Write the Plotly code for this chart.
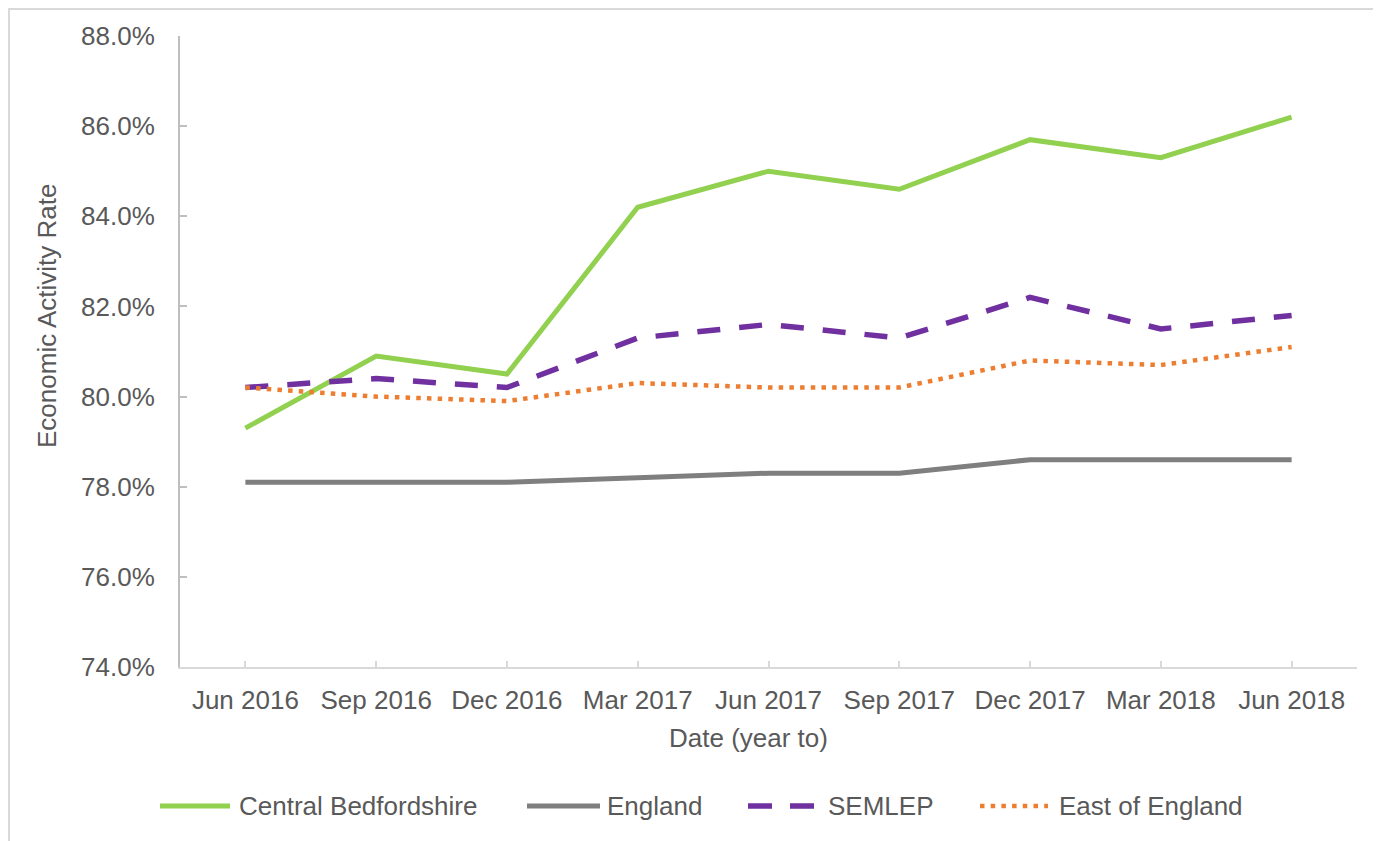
import plotly.graph_objects as go

# ---- data ----
dates = ["Jun 2016", "Sep 2016", "Dec 2016", "Mar 2017", "Jun 2017",
         "Sep 2017", "Dec 2017", "Mar 2018", "Jun 2018"]
central_beds = [79.3, 80.9, 80.5, 84.2, 85.0, 84.6, 85.7, 85.3, 86.2]
england = [78.1, 78.1, 78.1, 78.2, 78.3, 78.3, 78.6, 78.6, 78.6]
semlep = [80.2, 80.4, 80.2, 81.3, 81.6, 81.3, 82.2, 81.5, 81.8]
east_of_england = [80.2, 80.0, 79.9, 80.3, 80.2, 80.2, 80.8, 80.7, 81.1]
series_names = ["Central Bedfordshire", "England", "SEMLEP", "East of England"]
x_title = "Date (year to)"
y_title = "Economic Activity Rate"

# ---- layout geometry (screen pixels; page body adds an 8px offset) ----
OFF = 8
W, H = 1381, 841
L, R, T, B = 180 - OFF, 1381 - (1357 - OFF), 36 - OFF, 841 - (667 - OFF)
PW, PH = W - L - R, H - T - B


def px_x(px):
    return (px - OFF - L) / PW


def px_y(py):
    return (H - B - (py - OFF)) / PH


TXT = "#595959"
FONT = "Liberation Sans, Arial, sans-serif"

styles = [
    dict(color="#92d050", width=5, dash="solid"),
    dict(color="#7f7f7f", width=5, dash="solid"),
    dict(color="#7030a0", width=5.5, dash="23px,19px"),
    dict(color="#ed7d31", width=4.5, dash="4.5px,6.2px"),
]
values = [central_beds, england, semlep, east_of_england]

fig = go.Figure()
for name, vals, st in zip(series_names, values, styles):
    fig.add_trace(go.Scatter(
        x=dates, y=vals, mode="lines", name=name,
        line=dict(color=st["color"], width=st["width"], dash=st["dash"]),
        showlegend=False,
    ))

shapes = []
annotations = []

# outer frame (cropped at right and bottom)
shapes.append(dict(type="rect", xref="paper", yref="paper",
                   x0=px_x(9), x1=px_x(1600), y0=px_y(9), y1=px_y(1100),
                   line=dict(color="#d9d9d9", width=2), layer="below"))

# axis titles
annotations.append(dict(xref="paper", yref="paper", x=px_x(748), y=px_y(738),
                        text=x_title, showarrow=False, xanchor="center",
                        yanchor="middle",
                        font=dict(size=26, color=TXT, family=FONT)))
annotations.append(dict(xref="paper", yref="paper", x=px_x(47), y=px_y(316),
                        text=y_title, showarrow=False, xanchor="center",
                        yanchor="middle", textangle=-90,
                        font=dict(size=26, color=TXT, family=FONT)))

# manual legend
leg_y = px_y(806)
leg_items = [(160, 230, 237), (527, 600, 605), (748, 820, 826), (980, 1048, 1057)]
leg_dash = ["solid", "solid", "24px,18px", "4.5px,6.2px"]
for (x0, x1, xt), name, st, dsh in zip(leg_items, series_names, styles, leg_dash):
    shapes.append(dict(type="line", xref="paper", yref="paper",
                       x0=px_x(x0), x1=px_x(x1), y0=leg_y, y1=leg_y,
                       line=dict(color=st["color"], width=st["width"], dash=dsh)))
    annotations.append(dict(xref="paper", yref="paper", x=px_x(xt), y=leg_y,
                            text=name, showarrow=False, xanchor="left",
                            yanchor="middle",
                            font=dict(size=26, color=TXT, family=FONT)))

fig.update_layout(
    width=W, height=H,
    margin=dict(l=L, r=R, t=T, b=B),
    paper_bgcolor="white", plot_bgcolor="white",
    font=dict(family=FONT, size=26, color=TXT),
    shapes=shapes, annotations=annotations,
    xaxis=dict(
        type="category", range=[-0.5, 8.5],
        showline=True, linecolor="#d9d9d9", linewidth=2,
        ticks="inside", ticklen=6, tickcolor="#d9d9d9", tickwidth=2,
        showgrid=False, zeroline=False,
        ticklabelstandoff=9,
        tickfont=dict(size=26, color=TXT, family=FONT),
    ),
    yaxis=dict(
        range=[74, 88], dtick=2, tick0=74,
        tickformat=".1f", ticksuffix="%",
        showline=True, linecolor="#bfbfbf", linewidth=2,
        ticks="inside", ticklen=7, tickcolor="#bfbfbf", tickwidth=2,
        showgrid=False, zeroline=False,
        ticklabelstandoff=18,
        tickfont=dict(size=26, color=TXT, family=FONT),
    ),
)

fig.write_html("out.html")
